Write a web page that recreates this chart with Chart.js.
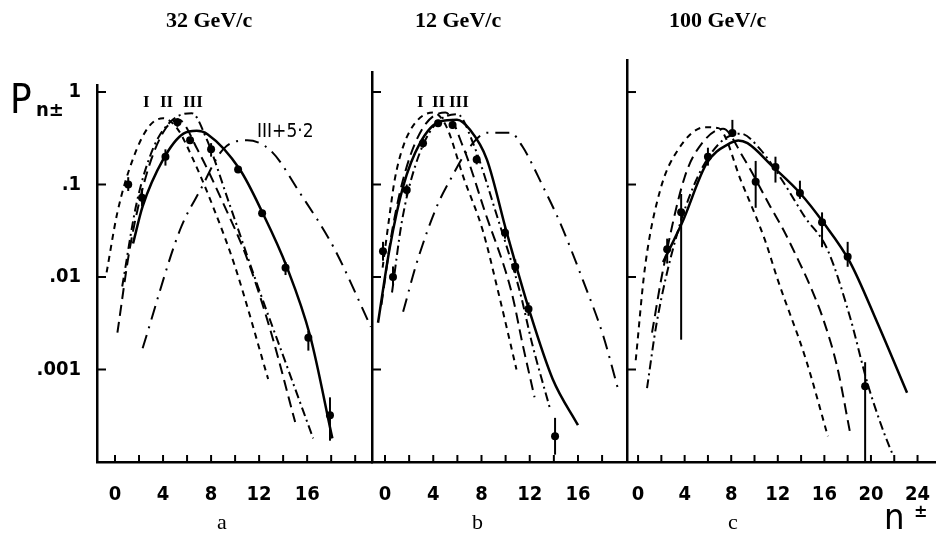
<!DOCTYPE html>
<html>
<head>
<meta charset="utf-8">
<script src="https://cdn.jsdelivr.net/npm/chart.js@4.4.0/dist/chart.umd.min.js"></script>
<style>
  body { margin: 0; background: #fff; }
  #wrap { position: relative; width: 944px; height: 539px; overflow: hidden; background: #fff; }
  #wrap canvas { position: absolute; top: 0; }
  .t { position: absolute; font-family: "Liberation Serif", "DejaVu Serif", serif; font-weight: bold; color: #000; white-space: nowrap; }
  .s { position: absolute; font-family: "DejaVu Sans Condensed", "DejaVu Sans", sans-serif; font-weight: bold; color: #000; white-space: nowrap; }
</style>
</head>
<body>
<div id="wrap">
  <canvas id="pa" width="380" height="539" style="left:0px"></canvas>
  <canvas id="pb" width="273" height="539" style="left:362px"></canvas>
  <canvas id="pc" width="327" height="539" style="left:617px"></canvas>

  <div class="t" style="left:166px;top:7px;font-size:22px">32 GeV/c</div>
  <div class="t" style="left:415px;top:7px;font-size:22px">12 GeV/c</div>
  <div class="t" style="left:669px;top:7px;font-size:22px">100 GeV/c</div>

  <div class="t" style="left:217px;top:509px;font-size:22px;font-weight:normal">a</div>
  <div class="t" style="left:472px;top:509px;font-size:22px;font-weight:normal">b</div>
  <div class="t" style="left:728px;top:509px;font-size:22px;font-weight:normal">c</div>

  <div class="s" style="left:10px;top:76px;font-size:40px;font-weight:normal">P</div>
  <div class="s" style="left:36px;top:97px;font-size:20px">n±</div>
  <div class="s" style="left:884px;top:496px;font-size:36px;font-weight:normal">n</div>
  <div class="s" style="left:914px;top:500px;font-size:18px">±</div>

  <div class="t" style="left:143px;top:92px;font-size:17px">I</div>
  <div class="t" style="left:160px;top:92px;font-size:17px">II</div>
  <div class="t" style="left:183px;top:92px;font-size:17px">III</div>
  <div class="s" style="left:257px;top:119px;font-size:19px;font-weight:normal">III+5·2</div>

  <div class="t" style="left:417px;top:92px;font-size:17px">I</div>
  <div class="t" style="left:432px;top:92px;font-size:17px">II</div>
  <div class="t" style="left:449px;top:92px;font-size:17px">III</div>
</div>

<script>
// ---------------- common axis data ----------------
const yTickValues = [0.001, 0.01, 0.1, 1];
const yTickLabels = ['.001', '.01', '.1', '1'];

// ---------------- panel a : 32 GeV/c ----------------
const aTickLabels = [0, 4, 8, 12, 16];
const aFitX = [1.5, 2.3, 4.0, 5.7, 6.8, 7.7, 10.4, 12.3, 14.3, 16.25, 18.1];
const aFitY = [0.023, 0.058, 0.186, 0.355, 0.38, 0.35, 0.145, 0.049, 0.0129, 0.0023, 0.00018];
const aIX = [-0.7, 0.2, 1.5, 2.8, 4.0, 5.2, 6.4, 8.2, 10.0, 12.75];
const aIY = [0.0112, 0.05, 0.19, 0.42, 0.52, 0.40, 0.20, 0.056, 0.0129, 0.00079];
const aIIX = [0.2, 1.25, 2.67, 4.2, 5.3, 6.9, 9.0, 11.0, 13.0, 15.0];
const aIIY = [0.0025, 0.021, 0.135, 0.40, 0.50, 0.234, 0.063, 0.0158, 0.0025, 0.00027];
const aIIIX = [0.6, 1.8, 3.2, 4.8, 6.4, 7.6, 9.5, 11.9, 14.3, 16.5];
const aIIIY = [0.0079, 0.063, 0.25, 0.50, 0.59, 0.316, 0.063, 0.0079, 0.0011, 0.00018];
const aShiftX = [2.3, 5.4, 7.1, 9.0, 11.0, 13.0, 15.4, 18.2, 21.3];
const aShiftY = [0.0017, 0.032, 0.087, 0.24, 0.30, 0.23, 0.081, 0.021, 0.0029];
const aPtsX = [1.1, 2.25, 4.2, 5.2, 6.25, 8.0, 10.25, 12.25, 14.2, 16.1, 17.9];
const aPtsY = [0.1, 0.072, 0.2, 0.47, 0.30, 0.24, 0.145, 0.049, 0.0126, 0.0022, 0.00032];
const aErrLo = [0.085, 0.058, 0.16, 0.42, 0.28, 0.20, 0.135, 0.045, 0.0105, 0.0016, 0.00017];
const aErrHi = [0.12, 0.09, 0.24, 0.52, 0.32, 0.28, 0.155, 0.053, 0.0145, 0.0026, 0.0005];

// ---------------- panel b : 12 GeV/c ----------------
const bTickLabels = [0, 4, 8, 12, 16];
const bFitX = [-0.58, 0.4, 1.5, 2.9, 4.56, 5.97, 7.05, 8.45, 10.1, 12.0, 13.9, 16.0];
const bFitY = [0.0032, 0.021, 0.095, 0.28, 0.48, 0.50, 0.39, 0.186, 0.030, 0.0042, 0.00079, 0.00025];
const bIX = [-0.2, 0.4, 0.8, 1.5, 2.6, 4.0, 5.1, 6.5, 8.1, 9.4, 10.9];
const bIY = [0.0126, 0.049, 0.112, 0.257, 0.48, 0.60, 0.42, 0.12, 0.032, 0.0068, 0.001];
const bIIX = [-0.3, 0.6, 1.7, 3.2, 5.0, 6.5, 8.3, 10.5, 11.4, 12.4];
const bIIY = [0.005, 0.032, 0.141, 0.42, 0.60, 0.25, 0.05, 0.0068, 0.0019, 0.0005];
const bIIIX = [0.58, 1.4, 2.5, 4.0, 6.0, 7.3, 9.3, 11.2, 12.2, 13.7];
const bIIIY = [0.0068, 0.04, 0.158, 0.42, 0.575, 0.28, 0.045, 0.0068, 0.0019, 0.00037];
const bShiftX = [1.5, 2.65, 4.3, 5.4, 7.05, 8.5, 10.4, 11.4, 13.1, 14.5, 16.4, 18.1, 19.3];
const bShiftY = [0.0042, 0.0145, 0.058, 0.112, 0.257, 0.363, 0.363, 0.257, 0.095, 0.039, 0.0093, 0.0023, 0.00063];
const bPtsX = [-0.17, 0.66, 1.8, 3.15, 4.4, 5.6, 7.6, 9.95, 10.8, 11.9, 14.1];
const bPtsY = [0.019, 0.01, 0.087, 0.28, 0.46, 0.44, 0.186, 0.030, 0.0129, 0.0045, 0.00019];
const bErrLo = [0.015, 0.008, 0.075, 0.25, 0.42, 0.40, 0.165, 0.026, 0.011, 0.0038, 0.00012];
const bErrHi = [0.024, 0.013, 0.1, 0.31, 0.5, 0.48, 0.21, 0.035, 0.0155, 0.0053, 0.0003];

// ---------------- panel c : 100 GeV/c ----------------
const cTickLabels = [0, 4, 8, 12, 16, 20, 24];
const cFitX = [2.15, 3.8, 5.9, 7.9, 8.6, 9.4, 11.6, 13.9, 15.9, 18.2, 20.55, 23.1];
const cFitY = [0.0145, 0.039, 0.17, 0.28, 0.30, 0.28, 0.155, 0.081, 0.039, 0.0145, 0.0032, 0.00056];
const cIX = [-0.2, 0.6, 1.9, 3.4, 5.76, 6.9, 8.9, 10.9, 12.0, 14.4, 16.3];
const cIY = [0.00126, 0.0129, 0.087, 0.234, 0.417, 0.407, 0.105, 0.025, 0.0093, 0.0013, 0.00019];
const cIIX = [1.2, 2.1, 4.0, 5.5, 7.3, 9.0, 11.35, 12.5, 13.7, 14.8, 15.9, 17.1, 18.2];
const cIIY = [0.0025, 0.0112, 0.12, 0.28, 0.40, 0.20, 0.058, 0.032, 0.0158, 0.0079, 0.0035, 0.00107, 0.00021];
const cIIIX = [0.77, 1.6, 3.2, 5.0, 7.0, 8.8, 10.5, 12.5, 14.3, 16.25, 18.2, 19.7, 21.1, 21.8];
const cIIIY = [0.00063, 0.0032, 0.025, 0.112, 0.28, 0.355, 0.24, 0.105, 0.045, 0.02, 0.0037, 0.00071, 0.00021, 0.000126];
const cPtsX = [2.5, 3.7, 6.0, 8.1, 10.1, 11.8, 13.9, 15.8, 18.0, 19.5];
const cPtsY = [0.02, 0.05, 0.2, 0.36, 0.107, 0.155, 0.081, 0.039, 0.0166, 0.00066];
const cErrLo = [0.014, 0.0021, 0.16, 0.33, 0.056, 0.105, 0.07, 0.021, 0.0129, 0.0001];
const cErrHi = [0.026, 0.079, 0.25, 0.5, 0.18, 0.2, 0.11, 0.05, 0.024, 0.0012];

// line styles
const SOLID = [];
const DASH_I = [6, 5];
const DASH_II = [11, 6];
const DASH_III = [9, 4, 2, 4];
const DASH_SHIFT = [14, 7, 2, 7];

function pts(xs, ys) {
    return xs.map(function (x, i) { return {x: x, y: ys[i]}; });
}

function curve(xs, ys, dash, w) {
    return {
        data: pts(xs, ys),
        showLine: true,
        borderColor: '#000',
        borderWidth: w,
        borderDash: dash,
        pointRadius: 0,
        tension: 0.4,
        cubicInterpolationMode: 'monotone',
        fill: false
    };
}

function dots(xs, ys) {
    return {
        data: pts(xs, ys),
        showLine: false,
        pointRadius: 4,
        pointBackgroundColor: '#000',
        pointBorderColor: '#000',
        pointBorderWidth: 0
    };
}

// tick marks drawn inward + vertical error bars
const inwardTicks = {
    id: 'inwardTicks',
    afterDatasetsDraw: function (chart) {
        const ctx = chart.ctx, area = chart.chartArea, x = chart.scales.x, y = chart.scales.y;
        const eb = chart.options.plugins.inwardTicks;
        ctx.save();
        ctx.strokeStyle = '#000';
        ctx.lineWidth = 2;
        x.ticks.forEach(function (t) {
            const v = Math.round(t.value);
            if (Math.abs(t.value - v) > 1e-6 || v % 2 !== 0 || t.value < x.min || t.value > x.max) return;
            const px = x.getPixelForValue(v);
            ctx.beginPath(); ctx.moveTo(px, area.bottom); ctx.lineTo(px, area.bottom - 7); ctx.stroke();
        });
        y.ticks.forEach(function (t) {
            const py = y.getPixelForValue(t.value);
            ctx.beginPath(); ctx.moveTo(area.left, py); ctx.lineTo(area.left + 9, py); ctx.stroke();
        });
        ctx.beginPath();
        ctx.rect(area.left, area.top, area.right - area.left, area.bottom - area.top);
        ctx.clip();
        eb.xs.forEach(function (xv, i) {
            const px = x.getPixelForValue(xv);
            ctx.beginPath();
            ctx.moveTo(px, y.getPixelForValue(eb.lo[i]));
            ctx.lineTo(px, y.getPixelForValue(eb.hi[i]));
            ctx.stroke();
        });
        ctx.restore();
    }
};

const tickFont = {family: '"DejaVu Sans Condensed", "DejaVu Sans", sans-serif', size: 20, weight: 'bold'};

function panel(id, p) {
    return new Chart(document.getElementById(id), {
        type: 'scatter',
        data: {datasets: p.datasets},
        options: {
            responsive: false,
            animation: false,
            events: [],
            layout: {padding: {top: p.top, right: p.right, bottom: 32, left: 0}},
            plugins: {
                legend: {display: false},
                tooltip: {enabled: false},
                inwardTicks: {xs: p.ex, lo: p.lo, hi: p.hi}
            },
            scales: {
                x: {
                    type: 'linear',
                    min: p.xmin,
                    max: p.xmax,
                    afterFit: function (s) { s.height = 45; },
                    grid: {display: false},
                    border: {color: '#000', width: 2.5},
                    ticks: {
                        stepSize: 2,
                        includeBounds: false,
                        autoSkip: false,
                        maxRotation: 0,
                        padding: 13,
                        color: '#000',
                        font: tickFont,
                        callback: function (v) { return p.labels.indexOf(Math.round(v)) >= 0 && Math.abs(v - Math.round(v)) < 1e-6 ? String(Math.round(v)) : ''; }
                    }
                },
                y: {
                    type: 'logarithmic',
                    min: 0.0001,
                    max: p.ymax,
                    afterFit: function (s) { s.width = p.yw; },
                    afterBuildTicks: function (s) { s.ticks = yTickValues.map(function (v) { return {value: v}; }); },
                    grid: {display: false},
                    border: {color: '#000', width: 2.5},
                    ticks: {
                        display: p.showY,
                        padding: 8,
                        color: '#000',
                        font: tickFont,
                        callback: function (v, i) { return yTickLabels[i]; }
                    }
                }
            }
        },
        plugins: [inwardTicks]
    });
}

panel('pa', {
    top: 85, right: 8, yw: 97, showY: true, xmin: -1.5, xmax: 21.4, ymax: 1.19, labels: aTickLabels,
    ex: aPtsX, lo: aErrLo, hi: aErrHi,
    datasets: [
        curve(aFitX, aFitY, SOLID, 2.5),
        curve(aIX, aIY, DASH_I, 2),
        curve(aIIX, aIIY, DASH_II, 2),
        curve(aIIIX, aIIIY, DASH_III, 2),
        curve(aShiftX, aShiftY, DASH_SHIFT, 2),
        dots(aPtsX, aPtsY)
    ]
});

panel('pb', {
    top: 72, right: 10, yw: 10, showY: false, xmin: -1.08, xmax: 19.9, ymax: 1.645, labels: bTickLabels,
    ex: bPtsX, lo: bErrLo, hi: bErrHi,
    datasets: [
        curve(bFitX, bFitY, SOLID, 2.5),
        curve(bIX, bIY, DASH_I, 2),
        curve(bIIX, bIIY, DASH_II, 2),
        curve(bIIIX, bIIIY, DASH_III, 2),
        curve(bShiftX, bShiftY, DASH_SHIFT, 2),
        dots(bPtsX, bPtsY)
    ]
});

panel('pc', {
    top: 60, right: 9, yw: 10, showY: false, xmin: -0.95, xmax: 25.5, ymax: 2.22, labels: cTickLabels,
    ex: cPtsX, lo: cErrLo, hi: cErrHi,
    datasets: [
        curve(cFitX, cFitY, SOLID, 2.5),
        curve(cIX, cIY, DASH_I, 2),
        curve(cIIX, cIIY, DASH_II, 2),
        curve(cIIIX, cIIIY, DASH_III, 2),
        dots(cPtsX, cPtsY)
    ]
});
</script>
</body>
</html>
